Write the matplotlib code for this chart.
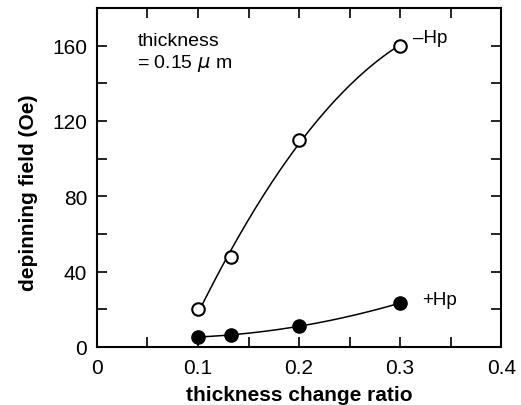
import numpy as np
import matplotlib
matplotlib.use("Agg")
import matplotlib.pyplot as plt
from matplotlib.ticker import MultipleLocator

plt.rcParams['font.family'] = ['Liberation Sans', 'DejaVu Sans']

# data
ratio = [0.1, 0.133, 0.2, 0.3]
hp_minus = [20, 48, 110, 160]   # -Hp, open circles
hp_plus = [5.3, 6.4, 11, 23.3]  # +Hp, filled circles

fig = plt.figure(figsize=(5.21, 4.06), dpi=100)
ax = fig.add_axes([0.186, 0.143, 0.776, 0.835])

# smooth guide lines (2nd order fit of the points)
xs = np.linspace(ratio[0], ratio[-1], 200)
for ys in (hp_minus, hp_plus):
    c = np.polyfit(ratio, ys, 2)
    ax.plot(xs, np.polyval(c, xs), color='black', lw=1.1, zorder=1)

ax.plot(ratio, hp_minus, 'o', ms=9, mfc='white', mec='black', mew=1.5, zorder=2)
ax.plot(ratio, hp_plus, 'o', ms=9.5, mfc='black', mec='black', zorder=2)

ax.set_xlim(0, 0.4)
ax.set_ylim(0, 180)
ax.set_xticks([0, 0.1, 0.2, 0.3, 0.4])
ax.set_xticklabels(['0', '0.1', '0.2', '0.3', '0.4'])
ax.xaxis.set_minor_locator(MultipleLocator(0.05))
ax.yaxis.set_major_locator(MultipleLocator(40))
ax.yaxis.set_minor_locator(MultipleLocator(20))
ax.tick_params(which='both', direction='in', top=True, right=True,
               labelsize=15, width=1.2, length=7)
ax.tick_params(axis='x', pad=8)
ax.tick_params(axis='y', pad=7)
for s in ax.spines.values():
    s.set_linewidth(1.5)

ax.set_xlabel('thickness change ratio', fontsize=15, fontweight='bold', labelpad=6)
ax.set_ylabel('depinning field (Oe)', fontsize=15, fontweight='bold')
ax.yaxis.set_label_coords(-0.146, 0.457)

ax.text(0.04, 167, 'thickness\n= 0.15 $\\mu$ m', fontsize=14, va='top',
        linespacing=1.15, math_fontfamily='dejavusans')
ax.text(0.313, 162, '\u2013Hp', fontsize=13.5, va='baseline')
ax.text(0.322, 23, '+Hp', fontsize=13.5, va='baseline')

fig.savefig('out.png', dpi=100)
